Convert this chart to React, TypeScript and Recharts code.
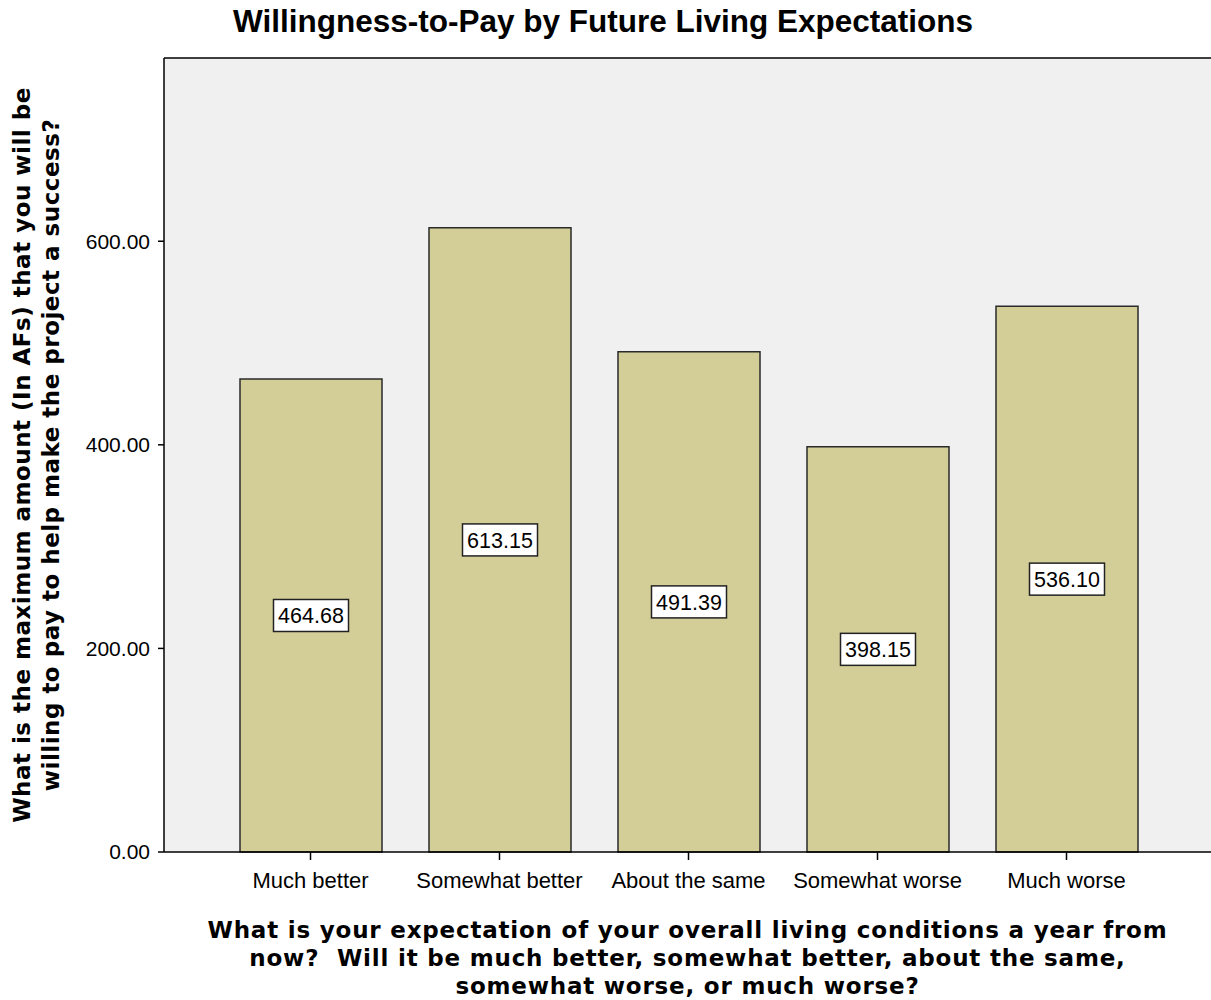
import { Bar, BarChart, CartesianGrid, LabelList, ReferenceLine, XAxis, YAxis } from 'recharts';

const categories = ['Much better', 'Somewhat better', 'About the same', 'Somewhat worse', 'Much worse'];
const meanWtp = [464.68, 613.15, 491.39, 398.15, 536.1];
const yTicks = [0, 200, 400, 600];

const data = categories.map((name, i) => ({ name, value: meanWtp[i] }));

const xTitleLines = [
  'What is your expectation of your overall living conditions a year from',
  'now?  Will it be much better, somewhat better, about the same,',
  'somewhat worse, or much worse?',
];
const yTitleLines = [
  'What is the maximum amount (In AFs) that you will be',
  'willing to pay to help make the project a success?',
];

const titleFont = '"DejaVu Sans", Verdana, sans-serif';

function XTitle(props: any) {
  const vb = props.viewBox || {};
  const cx = vb.x + vb.width / 2;
  return (
    <g>
      {xTitleLines.map((line, i) => (
        <text
          key={i}
          x={cx}
          y={vb.y + 86 + i * 28}
          textAnchor="middle"
          fontFamily={titleFont}
          fontWeight="bold"
          fontSize={23}
          letterSpacing={0.8}
          fill="#000"
          style={{ whiteSpace: 'pre' }}
        >
          {line}
        </text>
      ))}
    </g>
  );
}

function YTitle(props: any) {
  const vb = props.viewBox || {};
  const cy = vb.y + vb.height / 2;
  const xs = [30, 59];
  return (
    <g>
      {yTitleLines.map((line, i) => (
        <text
          key={i}
          x={xs[i]}
          y={cy}
          transform={`rotate(-90 ${xs[i]} ${cy})`}
          textAnchor="middle"
          fontFamily={titleFont}
          fontWeight="bold"
          fontSize={23}
          letterSpacing={0.5}
          fill="#000"
        >
          {line}
        </text>
      ))}
    </g>
  );
}

function ValueBox(props: any) {
  const { x, y, width, height, value } = props;
  const cx = x + width / 2;
  const cy = y + height / 2;
  const w = 75;
  const h = 32;
  return (
    <g>
      <rect x={cx - w / 2} y={cy - h / 2} width={w} height={h} fill="#fff" stroke="#222" strokeWidth={1.5} />
      <text x={cx} y={cy + 8} textAnchor="middle" fontSize={21.5} fill="#000">
        {Number(value).toFixed(2)}
      </text>
    </g>
  );
}

export default function App() {
  return (
    <div
      style={{
        position: 'absolute',
        left: 0,
        top: 0,
        width: 1211,
        height: 1000,
        background: '#fff',
        fontFamily: '"Liberation Sans", Arial, sans-serif',
        overflow: 'hidden',
      }}
    >
      <div
        style={{
          position: 'absolute',
          left: 0,
          width: 1206,
          top: 3,
          textAlign: 'center',
          fontWeight: 'bold',
          fontSize: 31.5,
          color: '#000',
        }}
      >
        Willingness-to-Pay by Future Living Expectations
      </div>
      <BarChart
        width={1211}
        height={1000}
        data={data}
        margin={{ top: 58, right: 0, left: 64, bottom: 0 }}
        style={{ fontFamily: '"Liberation Sans", Arial, sans-serif' }}
      >
        <CartesianGrid horizontal={false} vertical={false} fill="#f0f0f0" />
        <ReferenceLine y={780} stroke="#000" strokeWidth={1.5} />
        <XAxis
          dataKey="name"
          height={148}
          padding={{ left: 52, right: 50 }}
          tickSize={8}
          tickMargin={12}
          axisLine={{ stroke: '#000', strokeWidth: 1.5 }}
          tickLine={{ stroke: '#000', strokeWidth: 1.5 }}
          tick={{ fill: '#000', fontSize: 22 }}
          interval={0}
          label={<XTitle />}
        />
        <YAxis
          width={100}
          domain={[0, 780]}
          ticks={yTicks}
          tickFormatter={(v: number) => v.toFixed(2)}
          tickSize={6}
          tickMargin={8}
          axisLine={{ stroke: '#000', strokeWidth: 1.5 }}
          tickLine={{ stroke: '#000', strokeWidth: 1.5 }}
          tick={{ fill: '#000', fontSize: 21 }}
          label={<YTitle />}
        />
        <Bar dataKey="value" barSize={142} fill="#d3ce97" stroke="#2a2a2a" strokeWidth={1.5} isAnimationActive={false}>
          <LabelList dataKey="value" content={<ValueBox />} />
        </Bar>
      </BarChart>
    </div>
  );
}
